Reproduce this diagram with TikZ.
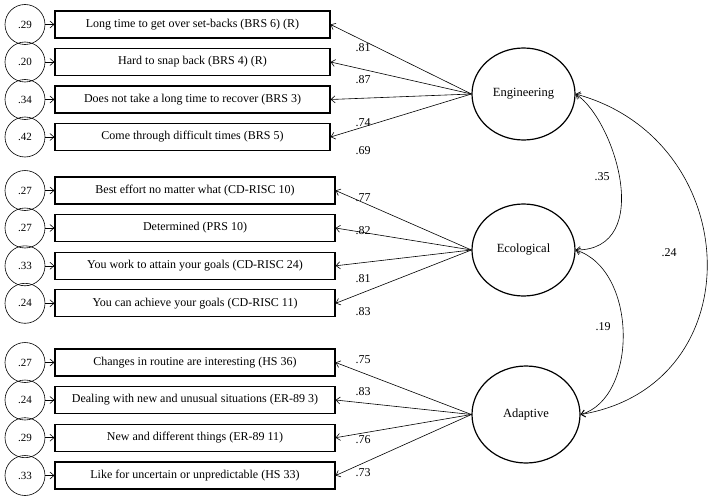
\documentclass[tikz,border=0pt]{standalone}
\usepackage{fontspec}
\setmainfont{Liberation Serif}
\usetikzlibrary{arrows.meta,shapes.geometric}

\tikzset{
  indicator/.style={draw, line width=1.2pt, minimum height=27pt, inner sep=0pt, font=\fontsize{12}{14}\selectfont},
  errterm/.style={draw, circle, line width=0.6pt, minimum size=40pt, inner sep=0pt, font=\fontsize{11}{13}\selectfont},
  latent/.style={draw, ellipse, line width=1.2pt, minimum width=103pt, minimum height=92pt, inner sep=0pt, font=\fontsize{12.5}{14}\selectfont},
  load/.style={line width=0.6pt, -{Straight Barb[length=4pt,width=7pt]}},
  cov/.style={line width=0.6pt, {Straight Barb[length=4pt,width=7pt]}-{Straight Barb[length=4pt,width=7pt]}},
  coef/.style={font=\fontsize{12}{14}\selectfont, inner sep=1pt}
}

\begin{document}
\begin{tikzpicture}[x=1pt,y=-1pt]
  \useasboundingbox (0,0) rectangle (712,503);

  % Draw latent factors
  \node[latent] (eng) at (523.5,94) {Engineering};
  \node[latent] (eco) at (523.5,250) {Ecological};
  \node[latent, minimum width=108pt, minimum height=97pt] (ada) at (526,414.5) {Adaptive};

  % Indicators, error terms and loadings
  \foreach \i/\y/\w/\err/\name/\fac in {
      1/24.5/275/.29/Long time to get over set-backs (BRS 6) (R)/eng,
      2/62/275/.20/Hard to snap back (BRS 4) (R)/eng,
      3/99.5/275/.34/Does not take a long time to recover (BRS 3)/eng,
      4/137/275/.42/Come through difficult times (BRS 5)/eng,
      5/190.5/280/.27/Best effort no matter what (CD-RISC 10)/eco,
      6/228/280/.27/Determined (PRS 10)/eco,
      7/265.8/280/.33/You work to attain your goals (CD-RISC 24)/eco,
      8/303.3/280/.24/You can achieve your goals (CD-RISC 11)/eco,
      9/362.5/280/.27/Changes in routine are interesting (HS 36)/ada,
      10/400/280/.24/Dealing with new and unusual situations (ER-89 3)/ada,
      11/437.7/280/.29/New and different things (ER-89 11)/ada,
      12/475.5/280/.33/Like for uncertain or unpredictable (HS 33)/ada} {
    \node[indicator, minimum width=\w pt] (ind\i) at ({55+\w/2},\y) {\name};
    \node[errterm] (err\i) at (25,\y) {\err};
    \draw[load] (err\i) -- (ind\i);
    \draw[load] (\fac.west) -- (ind\i.east);
  }

  % Loading values
  \foreach \i/\y/\val in {1/48/.81, 2/80/.87, 3/123/.74, 4/151/.69,
      5/198/.77, 6/231/.82, 7/279/.81, 8/312/.83,
      9/360/.75, 10/392/.83, 11/440/.76, 12/473/.73} {
    \node[coef] (lab\i) at (363,\y) {\val};
  }

  % Factor correlations
  \draw[cov] (eng.east) .. controls (615,120) and (655,250) .. (eco.east);
  \draw[cov] (eng.east) .. controls (745,140) and (755,385) .. (ada.east);
  \draw[cov] (eco.east) .. controls (638,270) and (638,398) .. (ada.east);
  \node[coef] (r1) at (602,177) {.35};
  \node[coef] (r2) at (669,253) {.24};
  \node[coef] (r3) at (603,327) {.19};

\end{tikzpicture}
\end{document}
